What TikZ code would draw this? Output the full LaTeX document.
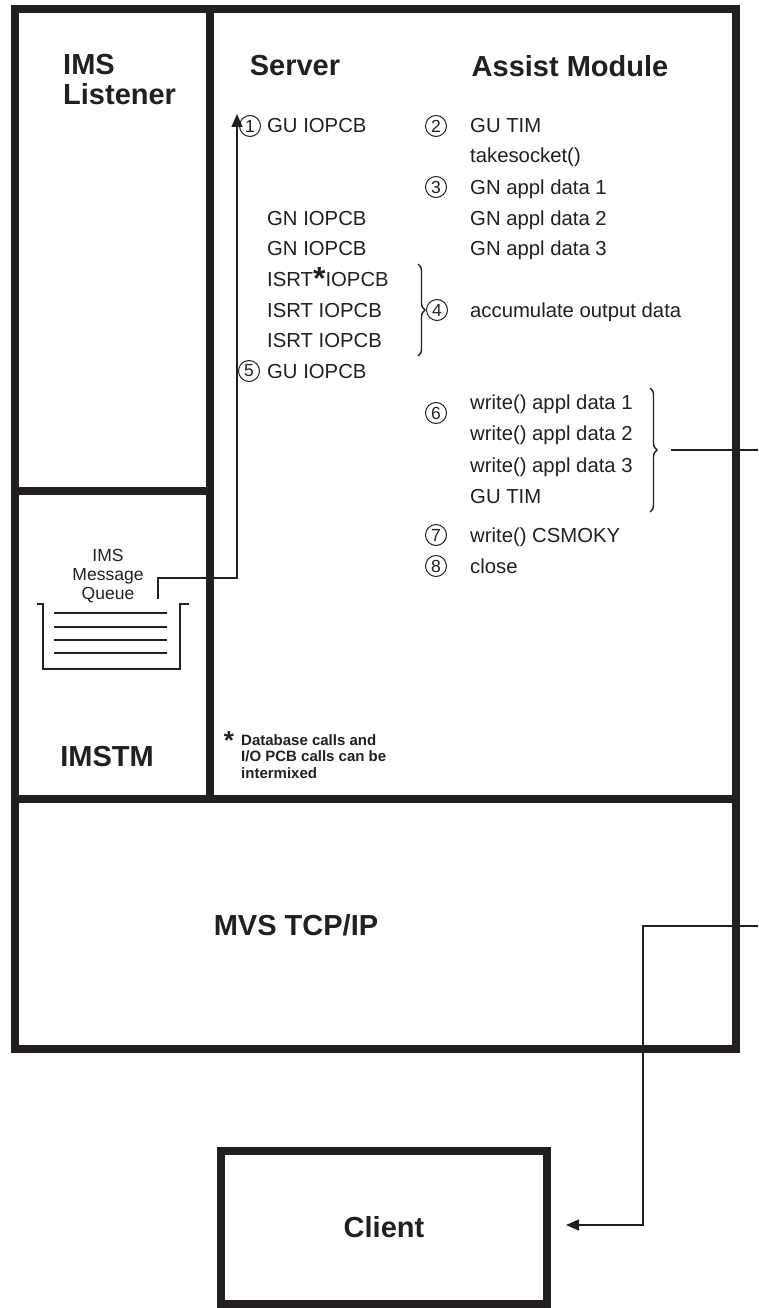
\documentclass[tikz,border=0pt]{standalone}
\usepackage{fontspec}
\setmainfont{Liberation Sans}
\usetikzlibrary{arrows.meta,decorations.pathreplacing}
\definecolor{ink}{HTML}{231F20}
\tikzset{
  frame/.style={line width=7.5pt, draw=ink},
  thin/.style={line width=1.4pt, draw=ink},
  title/.style={font=\fontsize{29}{32}\selectfont\bfseries, inner sep=0pt, text=ink},
  body/.style={font=\fontsize{20.3}{22}\selectfont, inner sep=0pt, anchor=base west, text=ink},
  num/.style={circle, draw=ink, line width=1pt, minimum size=21pt, inner sep=0pt, font=\fontsize{17.5}{18}\selectfont, text=ink},
  qlabel/.style={font=\fontsize{17.5}{19}\selectfont, align=center, inner sep=0pt, text=ink},
  note/.style={font=\fontsize{15}{16.5}\selectfont\bfseries, align=left, inner sep=0pt, anchor=north west, text=ink},
  bracebox/.style={thin, decorate, decoration={brace, amplitude=7pt}},
  arrowline/.style={thin, -{Triangle[length=13pt,width=11pt]}},
}
\begin{document}
\begin{tikzpicture}[x=1pt,y=-1pt]
\useasboundingbox (0,0) rectangle (758,1308);
% frame
\draw[frame] (15,9) rectangle (736,1049);
\draw[frame] (210,9) -- (210,799);
\draw[frame] (15,491) -- (210,491);
\draw[frame] (15,799) -- (736,799);
% titles
\node[title, anchor=base west] (lis1) at (63,75) {IMS};
\node[title, anchor=base west] (lis2) at (63,105) {Listener};
\node[title] (srv) at (295,66) {Server};
\node[title] (asm) at (570,66) {Assist Module};
\node[title] (tm) at (107,757) {IMSTM};
\node[title] (tcp) at (296,925) {MVS TCP/IP};
\node[title, draw=ink, line width=7.5pt, minimum width=326pt, minimum height=153pt] (client) at (384,1227.5) {Client};
% server column
\node[num] (n1) at (250,126) {1};
\node[body] (s1) at (267,133) {GU IOPCB};
\node[body] (s2) at (267,225) {GN IOPCB};
\node[body] (s3) at (267,255) {GN IOPCB};
\node[body] (s4) at (267,286) {ISRT\raisebox{-0.3ex}{\fontsize{32}{32}\selectfont\bfseries*}IOPCB};
\node[body] (s5) at (267,317) {ISRT IOPCB};
\node[body] (s6) at (267,347) {ISRT IOPCB};
\node[num] (n5) at (249,371) {5};
\node[body] (s7) at (267,378) {GU IOPCB};
% assist column
\node[num] (n2) at (436,126) {2};
\node[body] (a1) at (470,133) {GU TIM};
\node[body] (a2) at (470,163) {takesocket()};
\node[num] (n3) at (436,187) {3};
\node[body] (a3) at (470,194) {GN appl data 1};
\node[body] (a4) at (470,225) {GN appl data 2};
\node[body] (a5) at (470,255) {GN appl data 3};
\node[num] (n4) at (437,310) {4};
\node[body] (a6) at (470,317) {accumulate output data};
\node[num] (n6) at (436,413) {6};
\node[body] (a7) at (470,409) {write() appl data 1};
\node[body] (a8) at (470,440) {write() appl data 2};
\node[body] (a9) at (470,472) {write() appl data 3};
\node[body] (a10) at (470,503) {GU TIM};
\node[num] (n7) at (436,535) {7};
\node[body] (a11) at (470,542) {write() CSMOKY};
\node[num] (n8) at (436,566) {8};
\node[body] (a12) at (470,573) {close};
% braces
\draw[bracebox] (418,264) -- (418,356) coordinate[pos=0.5] (b1);
\draw[bracebox] (650,388) -- (650,512) coordinate[pos=0.5] (b2);
% footnote
\node[font=\fontsize{26}{26}\selectfont\bfseries, inner sep=0pt, text=ink] (star) at (229,741) {*};
\node[note] (fn) at (241,734) {Database calls and\\I/O PCB calls can be\\intermixed};
% message queue
\node[qlabel] (q) at (108,576) {IMS\\Message\\Queue};
\draw[thin] (37,604) -- (43,604) -- (43,669) -- (180,669) -- (180,604) -- (189,604);
\foreach \yy in {613,627,640,653} \draw[thin] (54,\yy) -- (167,\yy);
% connectors
\coordinate (qs) at (158,599);
\coordinate (qb) at (237,578);
\coordinate (qt) at (237,114);
\draw[arrowline] (qs) |- (qb) -- (qt);
\coordinate (r1a) at (671,450);
\coordinate (r1b) at (758,450);
\draw[thin] (r1a) -- (r1b);
\coordinate (r2a) at (758,926);
\coordinate (r2b) at (643,926);
\coordinate (r2c) at (643,1225);
\coordinate (ctip) at (566,1225);
\draw[arrowline] (r2a) -- (r2b) -- (r2c) -- (ctip);
\end{tikzpicture}
\end{document}
